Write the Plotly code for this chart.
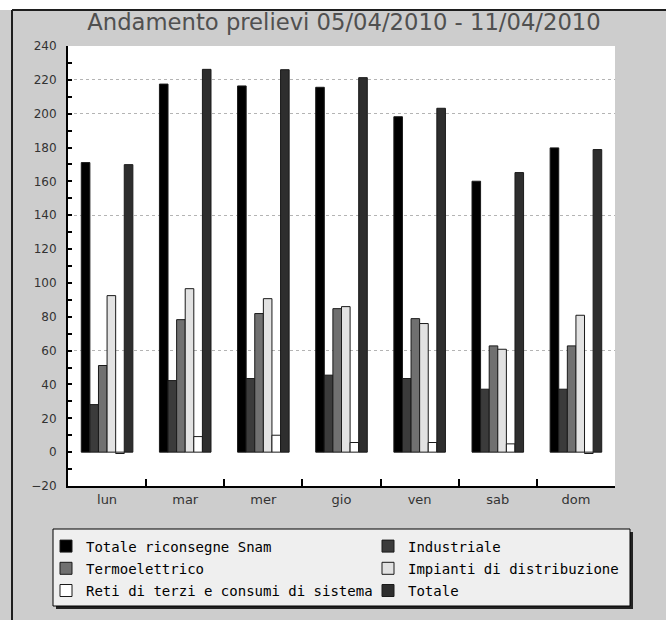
import plotly.graph_objects as go

# Daily gas withdrawals, week 05/04/2010 - 11/04/2010
giorni = ["lun", "mar", "mer", "gio", "ven", "sab", "dom"]

totale_snam = [171.1, 217.5, 216.4, 215.6, 198.2, 160.1, 179.8]
industriale = [28.1, 42.3, 43.5, 45.5, 43.5, 37.2, 37.2]
termoelettrico = [51.2, 78.3, 81.9, 84.8, 78.9, 62.8, 62.8]
impianti_distr = [92.5, 96.6, 90.7, 86.0, 76.0, 60.8, 80.9]
reti_terzi = [-0.8, 9.2, 10.0, 5.7, 5.7, 4.9, -0.8]
totale = [169.9, 226.2, 226.0, 221.3, 203.2, 165.2, 178.8]

y_ticks = list(range(-20, 241, 20))
grid_levels = [60, 140, 200, 220]

series = [
    ("Totale riconsegne Snam", totale_snam, "#000000", "legend"),
    ("Industriale", industriale, "#3b3b3b", "legend2"),
    ("Termoelettrico", termoelettrico, "#707070", "legend"),
    ("Impianti di distribuzione", impianti_distr, "#e2e2e2", "legend2"),
    ("Reti di terzi e consumi di sistema", reti_terzi, "#ffffff", "legend"),
    ("Totale", totale, "#2e2e2e", "legend2"),
]

# page geometry (pixels) used to place paper-referenced decorations
W, H = 666, 620
L, R, T, B = 68, 51, 46, 134
PW, PH = W - L - R, H - T - B


def px(x):
    return (x - L) / PW


def py(y):
    return (H - B - y) / PH


fig = go.Figure()
for name, vals, color, leg in series:
    fig.add_trace(go.Bar(
        x=giorni, y=vals, name=name, legend=leg, legendgroup=name,
        marker=dict(color=color, line=dict(color="#1a1a1a", width=1)),
    ))

# empty helper trace so the overlaid grid axis gets drawn
fig.add_trace(go.Scatter(x=[], y=[], yaxis="y2", showlegend=False,
                         hoverinfo="skip"))

mono = "DejaVu Sans Mono"
sans = "DejaVu Sans"

legend_common = dict(
    orientation="v", bgcolor="rgba(0,0,0,0)", borderwidth=0,
    font=dict(family=mono, size=14, color="#000000"),
    yanchor="top", xanchor="left", tracegroupgap=1, itemclick=False,
)

fig.update_layout(
    width=W, height=H,
    margin=dict(l=L, r=R, t=T, b=B, pad=0),
    paper_bgcolor="#cdcdcd",
    plot_bgcolor="#ffffff",
    barmode="group", bargap=0.34, bargroupgap=0,
    showlegend=True,
    title=dict(
        text="Andamento prelievi 05/04/2010 - 11/04/2010",
        x=344 / W, xref="container", xanchor="center",
        y=1 - 22 / H, yref="container", yanchor="middle",
        font=dict(family=sans, size=22.7, color="#505050"),
    ),
    legend=dict(x=px(46), y=py(530.5), **legend_common),
    legend2=dict(x=px(368), y=py(530.5), **legend_common),
    xaxis=dict(
        showline=True, linecolor="#000000", linewidth=2,
        ticks="inside", tickson="boundaries", ticklen=7, tickwidth=2,
        tickcolor="#000000", showgrid=False,
        tickfont=dict(family=sans, size=13, color="#333333"),
    ),
    yaxis=dict(
        range=[-20, 240], tickvals=y_ticks,
        showline=True, linecolor="#000000", linewidth=2,
        ticks="inside", ticklen=4, tickwidth=2, tickcolor="#000000",
        minor=dict(dtick=10, ticks="inside", ticklen=4, tickwidth=2,
                   tickcolor="#000000", showgrid=False),
        showgrid=False, zeroline=False, ticklabelstandoff=7,
        tickfont=dict(family=sans, size=12, color="#333333"),
    ),
    yaxis2=dict(
        range=[-20, 240], overlaying="y", anchor="x", side="left",
        tickvals=grid_levels, showticklabels=False, ticks="",
        showgrid=True, gridcolor="#b4b4b4", griddash="dot", gridwidth=1,
        showline=False, zeroline=False,
    ),
)

shapes = [
    # white strip above the framed panel
    dict(type="rect", xref="paper", yref="paper", x0=px(0), x1=px(W),
         y0=py(10), y1=py(0), fillcolor="#ffffff", line=dict(width=0),
         layer="below"),
    # panel frame (top and left edges)
    dict(type="line", xref="paper", yref="paper", x0=px(12), x1=px(W),
         y0=py(10), y1=py(10), line=dict(color="#1e1e1e", width=2)),
    dict(type="line", xref="paper", yref="paper", x0=px(12), x1=px(12),
         y0=py(10), y1=py(H), line=dict(color="#1e1e1e", width=2)),
    # legend box shadow and box
    dict(type="rect", xref="paper", yref="paper", x0=px(56), x1=px(633),
         y0=py(609), y1=py(532), fillcolor="#222222", line=dict(width=0)),
    dict(type="rect", xref="paper", yref="paper", x0=px(53), x1=px(630),
         y0=py(606), y1=py(529), fillcolor="#efefef",
         line=dict(color="#000000", width=1)),
]
fig.update_layout(shapes=shapes)

fig.write_html("out.html")
